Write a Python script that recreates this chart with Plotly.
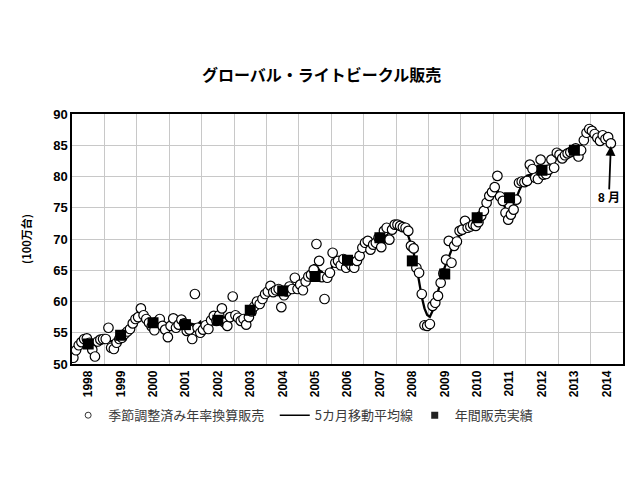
import plotly.graph_objects as go
import pandas as pd

# ---- data ----
start_year = 1998
monthly_saar = [
    # 1998
    51.0, 52.2, 53.0, 53.5, 54.0, 54.1, 53.4, 52.3, 51.2, 53.6, 53.9, 54.0,
    # 1999
    54.0, 55.8, 52.6, 52.4, 53.4, 54.0, 54.2, 54.8, 55.2, 55.6, 56.5, 57.2,
    # 2000
    57.5, 58.9, 57.8, 57.2, 56.6, 56.0, 55.4, 56.8, 57.2, 56.1, 55.5, 54.3,
    # 2001
    56.1, 57.3, 55.8, 56.3, 57.1, 56.5, 55.3, 55.5, 54.0, 61.2, 55.8, 55.0,
    # 2002
    55.5, 56.2, 55.6, 57.0, 57.7, 56.9, 57.8, 58.9, 56.6, 56.1, 57.5, 60.8,
    # 2003
    57.8, 57.4, 56.9, 57.2, 56.3, 57.5, 58.4, 59.2, 60.0, 59.6, 60.4, 61.2,
    # 2004
    61.6, 62.5, 61.5, 61.8, 62.0, 59.1, 61.0, 61.6, 62.4, 62.0, 63.8, 62.0,
    # 2005
    62.7, 61.8, 63.2, 64.0, 64.3, 65.1, 69.2, 66.5, 63.9, 60.4, 63.8, 64.6,
    # 2006
    67.8, 66.2, 66.5, 65.8, 66.8, 65.4, 66.2, 65.7, 65.4, 66.5, 67.3, 68.6,
    # 2007
    69.4, 69.7, 68.3, 69.1, 69.4, 70.2, 68.7, 71.3, 71.8, 69.9, 71.5, 72.3,
    # 2008
    72.3, 72.1, 71.9, 71.8, 71.3, 68.9, 68.5, 65.4, 64.6, 61.2, 56.2, 56.1,
    # 2009
    56.4, 59.3, 59.8, 60.9, 63.0, 64.5, 66.7, 69.7, 66.2, 68.9, 69.6, 71.3,
    # 2010
    71.5, 72.9, 71.8, 72.0, 72.3, 72.1, 72.7, 73.7, 74.5, 75.8, 76.9, 77.5,
    # 2011
    78.3, 80.1, 76.8, 76.1, 74.2, 73.1, 73.9, 74.7, 76.3, 79.0, 79.2, 79.1,
    # 2012
    79.3, 81.9, 81.2, 79.8, 79.6, 82.7, 80.3, 80.4, 81.1, 82.7, 81.4, 83.8,
    # 2013
    83.5, 82.9, 83.4, 83.7, 83.9, 84.2, 84.5, 83.2, 84.2, 85.8, 87.0, 87.6,
    # 2014 (Jan-Aug)
    87.3, 86.8, 86.2, 85.7, 86.6, 86.0, 86.3, 85.3,
]

annual_years = list(range(1998, 2014))
annual_sales = [53.2, 54.6, 56.6, 56.3, 57.0, 58.6, 61.7, 64.0,
                66.6, 70.2, 66.5, 64.4, 73.4, 76.6, 81.0, 84.2]

tick_years = list(range(1998, 2015))
tick_labels = [str(y) for y in tick_years]

title_text = "グローバル・ライトビークル販売"
y_title = "(100万台)"
legend_names = ["季節調整済み年率換算販売", "5カ月移動平均線", "年間販売実績"]

# ---- derived positions (fractional year scale) ----
month_x = [start_year + (i + 0.5) / 12 for i in range(len(monthly_saar))]
moving_avg = pd.Series(monthly_saar).rolling(5, center=True, min_periods=3).mean().tolist()
annual_x = [y + 0.5 for y in annual_years]

fig = go.Figure()

# data traces (legend handled by legend-only traces with smaller symbols)
fig.add_trace(go.Scatter(
    x=month_x, y=moving_avg, mode="lines", showlegend=False,
    line=dict(color="black", width=2.3),
))
fig.add_trace(go.Scatter(
    x=month_x, y=monthly_saar, mode="markers", showlegend=False,
    marker=dict(symbol="circle", size=9.5, color="white",
                line=dict(color="black", width=1.2)),
))
fig.add_trace(go.Scatter(
    x=annual_x, y=annual_sales, mode="markers", showlegend=False,
    marker=dict(symbol="square", size=11, color="black",
                line=dict(color="black", width=0)),
))

# legend entries
fig.add_trace(go.Scatter(
    x=[None], y=[None], mode="markers", name=legend_names[0], legend="legend",
    marker=dict(symbol="circle", size=6, color="white", line=dict(color="#333333", width=1)),
))
fig.add_trace(go.Scatter(
    x=[None], y=[None], mode="lines", name=legend_names[1], legend="legend2",
    line=dict(color="black", width=1.5),
))
fig.add_trace(go.Scatter(
    x=[None], y=[None], mode="markers", name=legend_names[2], legend="legend3",
    marker=dict(symbol="square", size=7, color="#222222", line=dict(width=0)),
))

fig.add_annotation(
    x=month_x[-1], y=84.9, xref="x", yref="y",
    text="<b>8 月</b>", showarrow=True, ax=-2, ay=52,
    arrowhead=2, arrowsize=1.1, arrowwidth=1.8, arrowcolor="black",
    font=dict(size=12, color="black", family="Liberation Sans, Noto Sans CJK JP"),
)

legend_common = dict(orientation="h", xanchor="left", y=-0.205, yanchor="middle",
                     font=dict(size=13, family="Noto Sans CJK JP", color="#3a3a3a"),
                     bgcolor="rgba(0,0,0,0)")

fig.update_layout(
    width=640, height=480,
    margin=dict(l=64, r=25, t=106, b=124),
    paper_bgcolor="white", plot_bgcolor="white",
    font=dict(family="Liberation Sans, Noto Sans CJK JP", color="black"),
    title=dict(text=title_text, x=0.49, xref="container", xanchor="center",
               y=0.86, yref="container", yanchor="middle",
               font=dict(size=16, family="Noto Sans CJK JP", weight="bold", color="black")),
    showlegend=True,
    legend=dict(x=-0.007, **legend_common),
    legend2=dict(x=0.368, **legend_common),
    legend3=dict(x=0.622, **legend_common),
    xaxis=dict(
        range=[1998, 2015], tickmode="array",
        tickvals=[y + 0.5 for y in tick_years], ticktext=tick_labels,
        tickangle=-90, ticks="", showgrid=False, zeroline=False,
        tickfont=dict(size=12, weight="bold", family="Liberation Sans"),
        showline=True, mirror=True, linecolor="black", linewidth=1.5,
        minor=dict(tickmode="array", tickvals=list(range(1998, 2016)),
                   showgrid=True, gridcolor="#c8c8c8", gridwidth=1.2, ticks=""),
    ),
    yaxis=dict(
        range=[50, 90], dtick=5, tick0=50, ticks="",
        showgrid=True, gridcolor="#c8c8c8", gridwidth=1.2, zeroline=False,
        tickfont=dict(size=13, weight="bold", family="Liberation Sans"),
        showline=True, mirror=True, linecolor="black", linewidth=1.5,
        title=dict(text=y_title, standoff=19,
                   font=dict(size=11, weight="bold", family="Noto Sans CJK JP")),
    ),
)

fig.write_html("out.html")
